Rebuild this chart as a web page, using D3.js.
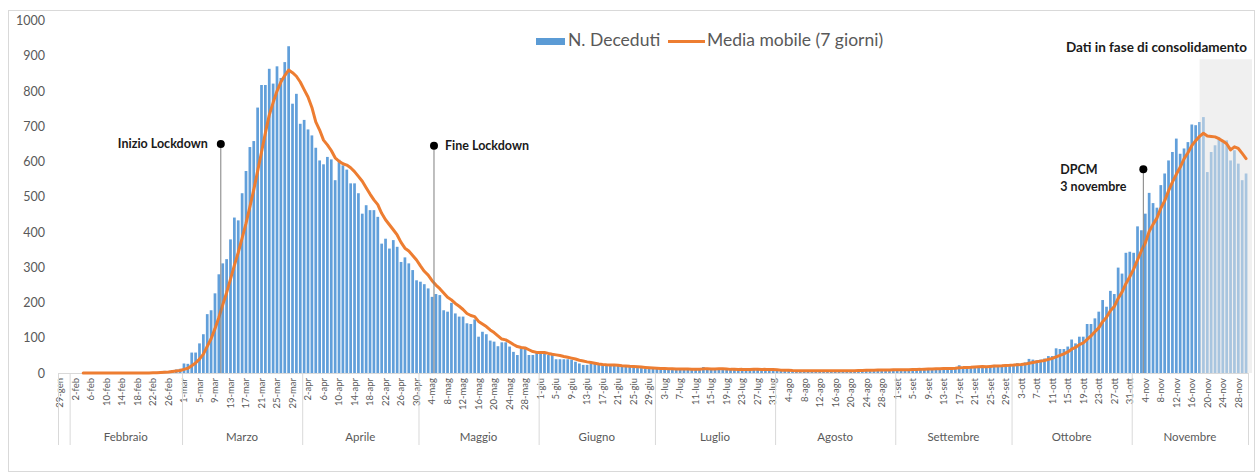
<!DOCTYPE html>
<html>
<head>
<meta charset="utf-8">
<style>
  body { margin: 0; background: #fff; font-family: Lato, sans-serif; }
  svg text { font-family: Lato, sans-serif; }
  .ylab text { font-size: 12.5px; fill: #595959; }
  .daylab { font-size: 9.5px; fill: #595959; }
  .monthlab { font-size: 11.5px; fill: #595959; }
  .note { font-size: 12.5px; font-weight: bold; fill: #1a1a1a; }
  .legend text { font-size: 17.5px; fill: #595959; }
</style>
<title>Deceduti per giorno</title>
</head>
<body>
<script src="https://cdn.jsdelivr.net/npm/d3@7"></script>
<script>

// decessi giornalieri, dal 29 gennaio al 30 novembre 2020
const gen = [0, 0, 0];
const feb = [0,0,0,0,0,0,0,0,0,0,0,0,0,0,0,0,0,0,0,0, 1,2,3,5,6,5,8,10,12];
const mar = [27,26,58,58,84,110,167,178,226,280,311,323,379,441,433,510,573,641,658,753,
             817,817,863,821,870,837,882,927,764,792,707];
const apr = [718,691,674,639,603,592,613,606,547,605,589,577,538,538,510,452,476,462,462,443,
             367,381,353,377,358,315,328,311,292,263];
const mag = [259,252,240,216,224,221,178,174,199,169,160,160,141,139,152,103,117,110,92,89,
             76,87,87,75,60,51,70,68,51,51,58];
const giu = [56,54,51,51,39,39,39,39,38,32,27,23,23,26,26,23,23,20,20,20,
             20,18,17,17,17,14,14,13,12,12];
const lug = [12,11,13,10,12,11,10,12,9,11,10,13,17,10,9,11,12,10,9,11,
             10,8,12,9,10,14,9,8,10,9,8];
const ago = [7,6,8,7,5,6,8,7,6,5,7,8,6,7,5,6,7,8,6,7,8,9,7,8,9,8,10,9,8,10,9];
const set = [9,10,11,9,12,10,11,13,12,11,14,13,15,12,14,16,22,15,17,18,
             19,17,20,19,21,23,20,22,24,23];
const ott = [24,28,26,30,40,38,36,38,41,48,48,70,68,68,75,95,84,103,103,139,
             139,155,174,207,188,233,224,299,282,341,344];
const nov = [341,416,405,452,511,482,469,533,566,603,627,665,622,637,655,705,703,712,726,570,
             627,646,669,655,660,603,632,594,547,566];

const mesi   = ["", "Febbraio", "Marzo", "Aprile", "Maggio", "Giugno", "Luglio", "Agosto", "Settembre", "Ottobre", "Novembre"];
const abbrev = ["gen", "feb", "mar", "apr", "mag", "giu", "lug", "ago", "set", "ott", "nov", "dic"];
const yTicks = [0, 100, 200, 300, 400, 500, 600, 700, 800, 900, 1000];

const note = [
  {date: "2020-03-10", value: 650, lines: ["Inizio Lockdown"], side: "left"},
  {date: "2020-05-04", value: 645, lines: ["Fine Lockdown"], side: "right"},
  {date: "2020-11-03", value: 578, lines: ["DPCM", "3 novembre"], side: "left"}
];
const consolidamentoDa = "2020-11-18";

let values = [].concat(gen, feb, mar, apr, mag, giu, lug, ago, set, ott, nov);
let days = d3.timeDay.range(new Date(2020, 0, 29), new Date(2020, 11, 1));
let parse = d3.timeParse("%Y-%m-%d");
let dayIndex = s => d3.timeDay.count(days[0], parse(s));

// media mobile 7 giorni
let media = values.map((v, i) => i < 6 ? null : d3.mean(values.slice(i - 6, i + 1)));

let width = 1258, height = 472;
let svg = d3.select("body").append("svg")
    .attr("width", width)
    .attr("height", height);

// cornice
svg.append("rect")
    .attr("x", 8.5).attr("y", 10.5)
    .attr("width", 1246).attr("height", 461)
    .attr("fill", "none").attr("stroke", "#d9d9d9");

let pad = 0.3;
let x = d3.scaleBand()
    .domain(d3.range(values.length))
    .range([58, 1248])
    .paddingInner(pad)
    .paddingOuter(pad / 2);
let step = x.step();
let edge = i => 58 + step * i;

let y = d3.scaleLinear().domain([0, 1000]).range([373, 20.5]);

// asse y
svg.append("g")
    .attr("class", "ylab")
    .attr("transform", "translate(58,0)")
    .call(d3.axisLeft(y).tickValues(yTicks).tickFormat(d3.format("d")).tickSize(0).tickPadding(13))
    .call(g => g.select(".domain").remove());

// barre
svg.append("g")
    .selectAll("rect")
    .data(values)
    .join("rect")
    .attr("x", (d, i) => x(i))
    .attr("width", x.bandwidth())
    .attr("y", d => y(d))
    .attr("height", d => y(0) - y(d))
    .attr("fill", "#619fda");

// zona dati in consolidamento
let ci = dayIndex(consolidamentoDa);
svg.append("rect")
    .attr("x", x(ci) + x.bandwidth() / 2)
    .attr("y", y(890))
    .attr("width", 1252 - (x(ci) + x.bandwidth() / 2))
    .attr("height", y(0) - y(890))
    .attr("fill", "#e4e4e4")
    .attr("opacity", 0.55);

svg.append("text")
    .attr("class", "note")
    .attr("x", 1247)
    .attr("y", 52)
    .attr("text-anchor", "end")
    .style("font-size", "13.5px")
    .text("Dati in fase di consolidamento");

// asse x
svg.append("line")
    .attr("x1", 58).attr("x2", 1248)
    .attr("y1", y(0) + 0.5).attr("y2", y(0) + 0.5)
    .attr("stroke", "#d9d9d9");

svg.append("g")
    .selectAll("text")
    .data(days.filter((d, i) => i % 4 == 0))
    .join("text")
    .attr("class", "daylab")
    .attr("transform", d => "translate(" + (x(d3.timeDay.count(days[0], d)) + x.bandwidth() / 2) + ",378) rotate(-90)")
    .attr("dy", "0.35em")
    .attr("text-anchor", "end")
    .text(d => d.getDate() + "-" + abbrev[d.getMonth()]);

// separatori e nomi dei mesi
let starts = [0];
days.forEach((d, i) => { if (i > 0 && d.getDate() == 1) starts.push(i); });
let bounds = starts.concat([values.length]);

svg.append("g")
    .selectAll("line")
    .data(bounds)
    .join("line")
    .attr("x1", i => edge(i) + 0.5).attr("x2", i => edge(i) + 0.5)
    .attr("y1", y(0)).attr("y2", 445)
    .attr("stroke", "#d9d9d9");

svg.append("g")
    .selectAll("text")
    .data(starts)
    .join("text")
    .attr("class", "monthlab")
    .attr("x", (s, k) => (edge(s) + edge(bounds[k + 1])) / 2)
    .attr("y", 441)
    .attr("text-anchor", "middle")
    .text((s, k) => mesi[k]);

// media mobile
let line = d3.line()
    .defined(d => d != null)
    .x((d, i) => x(i) + x.bandwidth() / 2)
    .y(d => y(d));

svg.append("path")
    .datum(media)
    .attr("d", line)
    .attr("fill", "none")
    .attr("stroke", "#ed7d31")
    .attr("stroke-width", 3)
    .attr("stroke-linejoin", "round")
    .attr("stroke-linecap", "round");

// annotazioni
for (let n of note) {
  let cx = edge(dayIndex(n.date) + 1);
  let cy = y(n.value);
  svg.append("line")
      .attr("x1", cx).attr("x2", cx)
      .attr("y1", cy).attr("y2", y(0))
      .attr("stroke", "#7f7f7f");
  svg.append("circle")
      .attr("cx", cx).attr("cy", cy).attr("r", 4)
      .attr("fill", "#000");
  let t = svg.append("text")
      .attr("class", "note")
      .attr("y", cy + 4.5);
  if (n.side == "right") {
    t.attr("x", cx + 11).text(n.lines[0]);
  } else if (n.lines.length == 1) {
    t.attr("x", cx - 13).attr("text-anchor", "end").text(n.lines[0]);
  } else {
    t.attr("x", cx - 83);
    n.lines.forEach((l, k) => t.append("tspan").attr("x", cx - 83).attr("dy", k ? 17 : 0).text(l));
  }
}

// legenda
let lg = svg.append("g").attr("class", "legend");
lg.append("rect")
    .attr("x", 536).attr("y", 38).attr("width", 29).attr("height", 7)
    .attr("fill", "#5b9bd5");
lg.append("text").attr("x", 568).attr("y", 46).text("N. Deceduti");
lg.append("line")
    .attr("x1", 668).attr("x2", 705).attr("y1", 41.5).attr("y2", 41.5)
    .attr("stroke", "#ed7d31").attr("stroke-width", 3);
lg.append("text").attr("x", 707).attr("y", 46).text("Media mobile (7 giorni)");

</script>
</body>
</html>
